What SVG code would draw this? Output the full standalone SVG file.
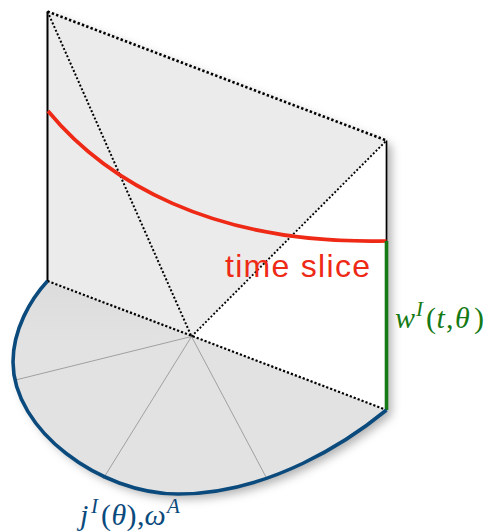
<svg xmlns="http://www.w3.org/2000/svg" width="488" height="531" viewBox="0 0 488 531">
  <defs>
    <filter id="shadow" x="-10%" y="-10%" width="130%" height="130%">
      <feDropShadow dx="5" dy="5" stdDeviation="5" flood-color="#000" flood-opacity="0.3"/>
    </filter>
    <linearGradient id="discGrad" x1="0" y1="0" x2="0" y2="1" gradientUnits="objectBoundingBox">
      <stop offset="0" stop-color="#dcdcdc"/>
      <stop offset="0.3" stop-color="#e2e2e2"/>
      <stop offset="1" stop-color="#e2e2e2"/>
    </linearGradient>
    <style>
      .dot { fill: none; stroke: #000; stroke-linecap: butt; }
      .radial { stroke: #999; stroke-width: 0.9; fill: none; }
      .math { font-family: "Liberation Serif", "DejaVu Serif", serif; }
      .it { font-style: italic; }
    </style>
  </defs>

  <g id="base">
    <g filter="url(#shadow)">
      <path d="M47.5,11.5 L386.5,140.5 L386.5,410 L47.5,281 Z" fill="#fff"/>
      <path d="M47.5,281 C30,300 13,330 13,362 C13,430 100,494 178,494 C270,494 350,440 386.5,410 Z" fill="#fff"/>
    </g>
  </g>

  <g id="face">
    <path d="M47.5,11.5 L386.5,140.5 L191.5,336.5 L47.5,281 Z" fill="#ebebeb"/>
  </g>

  <g id="disc">
    <path d="M47.5,281 C30,300 13,330 13,362 C13,430 100,494 178,494 C270,494 350,440 386.5,410 Z" fill="url(#discGrad)"/>
    <line class="radial" x1="191.5" y1="336.5" x2="15.5" y2="380"/>
    <line class="radial" x1="191.5" y1="336.5" x2="103" y2="479"/>
    <line class="radial" x1="191.5" y1="336.5" x2="266" y2="477"/>
  </g>

  <g id="connectors">
    <line class="dot" x1="47.5" y1="11.5" x2="386.5" y2="140.5" stroke-width="2.6" stroke-dasharray="2.4 2.2"/>
    <line class="dot" x1="47.5" y1="11.5" x2="191.5" y2="336.5" stroke-width="2" stroke-dasharray="2 2"/>
    <line class="dot" x1="191.5" y1="336.5" x2="386.5" y2="140.5" stroke-width="1.9" stroke-dasharray="1.9 2"/>
    <line class="dot" x1="47.5" y1="281" x2="386.5" y2="410" stroke-width="2.2" stroke-dasharray="2.2 2"/>
    <line x1="47.5" y1="11.5" x2="47.5" y2="281" stroke="#000" stroke-width="2"/>
    <line x1="386.5" y1="140.5" x2="386.5" y2="241" stroke="#000" stroke-width="1.7"/>
    <path id="timeslice" d="M48,111 C105,180 210,245 386.5,241" fill="none" stroke="#ee2a16" stroke-width="3.7"/>
    <line id="wline" x1="386.5" y1="241" x2="386.5" y2="410" stroke="#157a15" stroke-width="3.6"/>
    <path id="jarc" d="M47.5,281 C30,300 13,330 13,362 C13,430 100,494 178,494 C270,494 350,440 386.5,410" fill="none" stroke="#0b4a7c" stroke-width="3.6"/>
  </g>

  <g id="labels">
    <text x="225" y="277" font-family="Liberation Sans, Arial, sans-serif" font-size="32" fill="#ee2a16" textLength="145" lengthAdjust="spacing">time slice</text>
    <text class="math" font-size="30" fill="#157a15" y="328"><tspan class="it" x="395">w</tspan><tspan class="it" x="416" y="316" font-size="21">I</tspan><tspan x="426" y="328">(</tspan><tspan class="it" x="436.5">t</tspan><tspan x="446">,</tspan><tspan class="it" x="455">θ</tspan><tspan x="474">)</tspan></text>
    <text class="math" font-size="30" fill="#0b4a7c" y="525"><tspan class="it" x="80">j</tspan><tspan class="it" x="91" y="513" font-size="21">I</tspan><tspan x="101" y="525">(</tspan><tspan class="it" x="111.5">θ</tspan><tspan x="126.5">)</tspan><tspan x="137">,</tspan><tspan class="it" x="144.5">ω</tspan><tspan class="it" x="167" y="513" font-size="21">A</tspan></text>
  </g>
</svg>
